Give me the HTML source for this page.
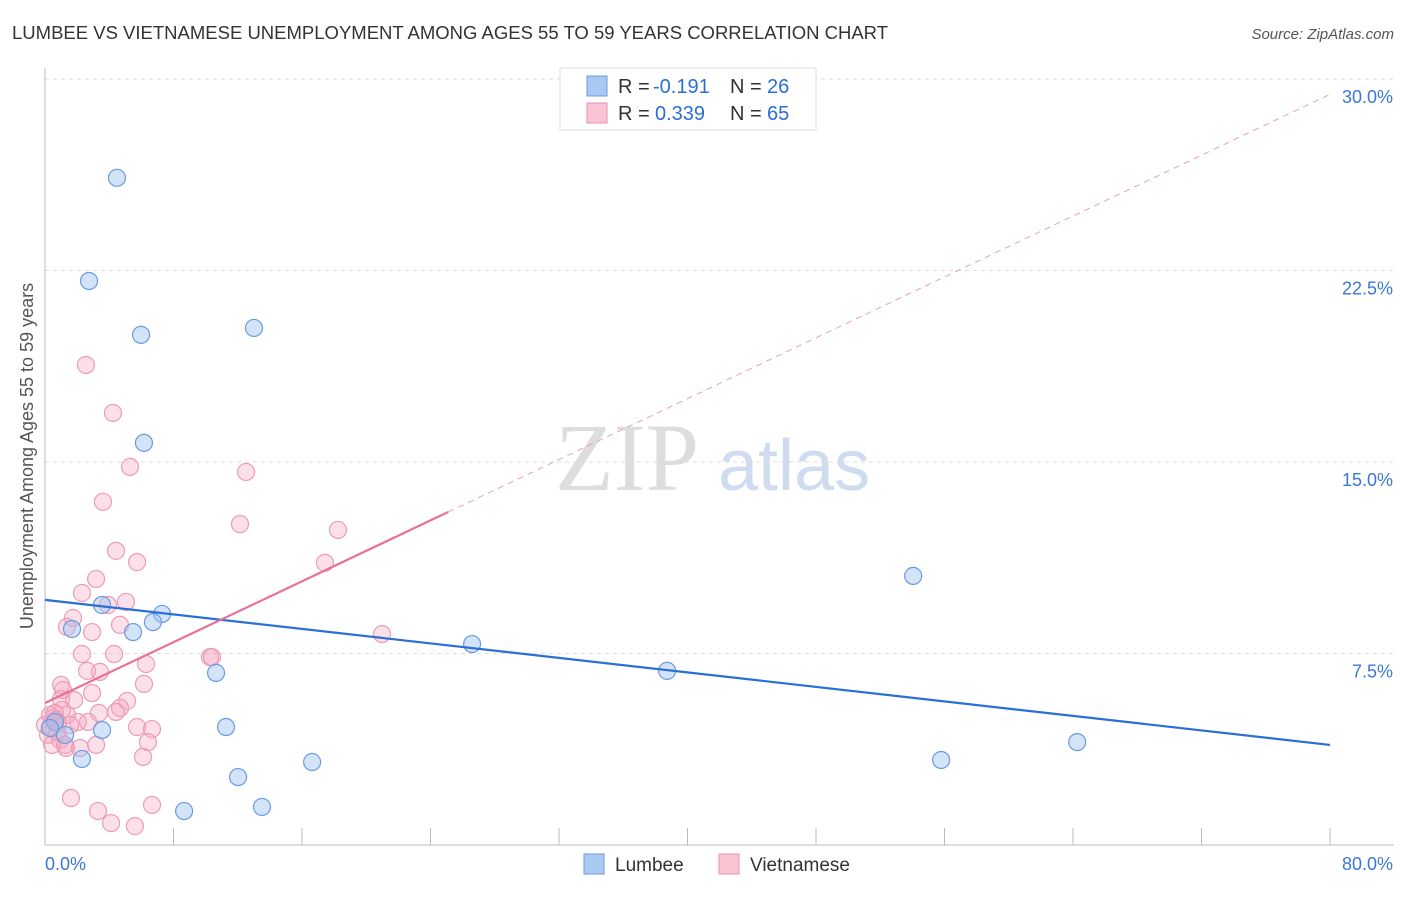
<!DOCTYPE html>
<html><head><meta charset="utf-8"><style>
body{margin:0;background:#fff;font-family:"Liberation Sans",sans-serif}
</style></head><body>
<svg id="c" width="1406" height="892" xmlns="http://www.w3.org/2000/svg" style="font-family:'Liberation Sans',sans-serif">
<text x="12" y="39" font-size="18" fill="#333" textLength="876" lengthAdjust="spacingAndGlyphs">LUMBEE VS VIETNAMESE UNEMPLOYMENT AMONG AGES 55 TO 59 YEARS CORRELATION CHART</text>
<text x="1394" y="39" font-size="15" fill="#555" font-style="italic" text-anchor="end">Source: ZipAtlas.com</text>
<text x="33" y="456" font-size="18" fill="#555" text-anchor="middle" transform="rotate(-90 33 456)">Unemployment Among Ages 55 to 59 years</text>
<text x="555" y="490" font-size="96" fill="#ddd" font-family="Liberation Serif">ZIP</text>
<text x="718" y="490" font-size="72" fill="#cfdcf0">atlas</text>
<g id="grid"></g><g id="axes"></g><g id="pts"></g><g id="lines"></g>
<g>
<rect x="560" y="68" width="256" height="62" fill="#fff" stroke="#ddd"/>
<rect x="587" y="76" width="20" height="20" fill="#a9c8f2" stroke="#6a9be0"/>
<rect x="587" y="103" width="20" height="20" fill="#f8c4d4" stroke="#e890b0"/>
<g font-size="20" fill="#333">
<text x="618" y="93">R =</text><text x="653" y="93" fill="#2a6fd6">-0.191</text><text x="730" y="93">N =</text><text x="767" y="93" fill="#2a6fd6">26</text></g>
<g font-size="20" fill="#333">
<text x="618" y="120">R =</text><text x="655" y="120" fill="#2a6fd6">0.339</text><text x="730" y="120">N =</text><text x="767" y="120" fill="#2a6fd6">65</text></g>
</g>
<g>
<rect x="584" y="854" width="20" height="20" fill="#a9c8f2" stroke="#6a9be0"/>
<text x="615" y="871" font-size="19" fill="#333">Lumbee</text>
<rect x="719" y="854" width="20" height="20" fill="#f8c4d4" stroke="#e890b0"/>
<text x="750" y="871" font-size="19" fill="#333">Vietnamese</text>
</g>
</svg>
<script>
const yTicks=[7.5,15,22.5,30];
const yTickLabels=["7.5%","15.0%","22.5%","30.0%"];
const xTicks=[0,8,16,24,32,40,48,56,64,72,80];
const lumbeeX=[4.48,2.74,5.98,13.01,6.16,54.05,3.55,7.29,6.72,1.68,5.48,26.59,38.73,10.65,3.55,11.27,1.25,2.30,64.26,55.79,16.63,12.02,13.51,8.66,0.62,0.31];
const lumbeeY=[26.13,22.09,19.98,20.25,15.75,10.54,9.40,9.05,8.73,8.46,8.34,7.87,6.82,6.74,4.50,4.62,4.31,3.37,4.03,3.33,3.25,2.66,1.49,1.33,4.82,4.58];
const vietX=[2.55,4.23,5.29,12.52,3.61,12.14,18.24,4.42,5.73,17.43,3.18,2.30,5.04,3.92,1.74,4.67,2.93,1.37,20.98,10.27,10.40,2.30,4.30,6.29,3.42,2.62,6.16,1.00,1.12,2.93,5.11,1.00,1.81,4.67,4.42,3.36,1.37,0.62,2.05,2.68,5.73,6.66,0.31,0.50,0.19,0.93,6.41,3.18,1.31,0.44,6.10,0.75,1.56,1.62,3.30,6.66,4.11,5.60,1.06,0.68,0.0,1.25,2.18,0.81,0.31];
const vietY=[18.80,16.92,14.81,14.61,13.44,12.57,12.34,11.52,11.08,11.05,10.42,9.87,9.52,9.40,8.89,8.62,8.34,8.54,8.26,7.36,7.36,7.48,7.48,7.09,6.78,6.82,6.31,6.27,6.07,5.95,5.64,5.72,5.68,5.37,5.21,5.17,5.09,5.17,4.82,4.82,4.62,4.54,4.62,4.97,4.31,4.11,4.03,3.92,3.80,3.92,3.45,4.43,4.70,1.84,1.33,1.57,0.86,0.74,5.29,4.90,4.70,3.92,3.80,4.78,5.09];
const lumbeeTrend=[9.6,3.92];
const vietTrend=[5.56,29.4];
const vietSolidEnd=25.1;
const X=v=>45+v*(1285/80), Y=v=>845-v*(766/30);
const NS="http://www.w3.org/2000/svg";
function mk(p,t,a){const e=document.createElementNS(NS,t);for(const k in a)e.setAttribute(k,a[k]);p.appendChild(e);return e;}
const grid=document.getElementById('grid'),axes=document.getElementById('axes'),pts=document.getElementById('pts'),lines=document.getElementById('lines');
yTicks.forEach((v,i)=>{
 const l=mk(grid,'line',{x1:45,x2:1394,y1:Y(v),y2:Y(v),stroke:'#ddd','stroke-dasharray':'4,4'});
 
 
 const t=mk(grid,'text',{x:1393,y:Y(v)+24,'font-size':18,fill:'#3a78d8','text-anchor':'end'});t.textContent=yTickLabels[i];
 
 
});
const ya=mk(axes,'line',{x1:45,x2:45,y1:68,y2:845,stroke:'#bbb'});


const xa=mk(axes,'line',{x1:45,x2:1394,y1:845,y2:845,stroke:'#bbb'});


xTicks.forEach(v=>{const t=mk(axes,'line',{x1:X(v),x2:X(v),y1:828,y2:845,stroke:'#bbb'});
 
 });
const xl0=mk(axes,'text',{x:45,y:870,'font-size':18,fill:'#3a78d8'});xl0.textContent='0.0%';


const xl1=mk(axes,'text',{x:1393,y:870,'font-size':18,fill:'#3a78d8','text-anchor':'end'});xl1.textContent='80.0%';


vietX.forEach((x,i)=>{const c=mk(pts,'circle',{cx:X(x),cy:Y(vietY[i]),r:8.5,fill:'rgba(245,165,192,0.35)',stroke:'#ec9cb8','stroke-width':1.2});
 
 });
lumbeeX.forEach((x,i)=>{const c=mk(pts,'circle',{cx:X(x),cy:Y(lumbeeY[i]),r:8.5,fill:'rgba(160,196,240,0.45)',stroke:'#6a9be0','stroke-width':1.2});
 
 });
const bl=mk(lines,'line',{x1:X(0),y1:Y(lumbeeTrend[0]),x2:X(80),y2:Y(lumbeeTrend[1]),stroke:'#2a6fd6','stroke-width':2.2});


const sl=(vietTrend[1]-vietTrend[0])/80;
const pd=mk(lines,'line',{x1:X(vietSolidEnd),y1:Y(vietTrend[0]+sl*vietSolidEnd),x2:X(80),y2:Y(vietTrend[1]),stroke:'#e8a0b8','stroke-width':1,'stroke-dasharray':'6,5'});


const ps=mk(lines,'line',{x1:X(0),y1:Y(vietTrend[0]),x2:X(vietSolidEnd),y2:Y(vietTrend[0]+sl*vietSolidEnd),stroke:'#e8709a','stroke-width':2.2});


</script>
</body></html>
